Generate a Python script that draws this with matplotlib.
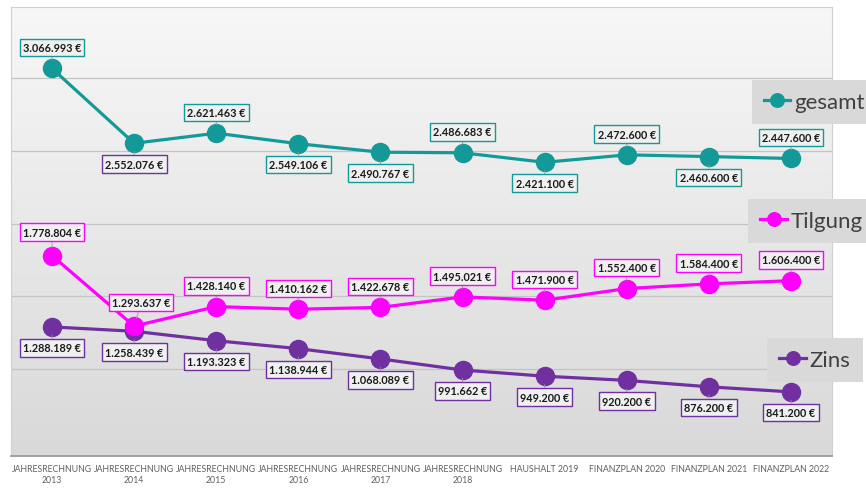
import matplotlib
matplotlib.use("Agg")
import matplotlib.pyplot as plt
import numpy as np

plt.rcParams["font.family"] = ["Lato", "DejaVu Sans"]

categories = ["JAHRESRECHNUNG\n2013", "JAHRESRECHNUNG\n2014", "JAHRESRECHNUNG\n2015",
              "JAHRESRECHNUNG\n2016", "JAHRESRECHNUNG\n2017", "JAHRESRECHNUNG\n2018",
              "HAUSHALT 2019", "FINANZPLAN 2020", "FINANZPLAN 2021", "FINANZPLAN 2022"]
gesamt = [3066993, 2552076, 2621463, 2549106, 2490767, 2486683, 2421100, 2472600, 2460600, 2447600]
tilgung = [1778804, 1293637, 1428140, 1410162, 1422678, 1495021, 1471900, 1552400, 1584400, 1606400]
zins = [1288189, 1258439, 1193323, 1138944, 1068089, 991662, 949200, 920200, 876200, 841200]

TEAL = "#139a98"
MAGENTA = "#ff00ff"
PURPLE = "#7030a0"

# label placement per point: +1 above, -1 below
gesamt_side = [1, -1, 1, -1, -1, 1, -1, 1, -1, 1]
tilgung_side = [1] * 10
zins_side = [-1] * 10


def euro(v):
    return f"{v:,.0f} €".replace(",", ".")


fig = plt.figure(figsize=(8.66, 4.89), dpi=100)
fig.patch.set_facecolor("white")
ax = fig.add_axes([11 / 866, 32 / 489, 821 / 866, 449 / 489])

# gradient background
grad = np.linspace(0, 1, 256).reshape(-1, 1)
cmap = matplotlib.colors.LinearSegmentedColormap.from_list("bg", ["#d9d9d9", "#f7f7f7"])
ax.imshow(grad, extent=[0, 1, 0, 1], transform=ax.transAxes, aspect="auto",
          cmap=cmap, origin="lower", zorder=0)

x = np.arange(len(categories))
ax.set_xlim(-0.5, len(categories) - 0.5)
ax.set_ylim(400000, 3490000)

for gy in [1000000, 1500000, 2000000, 2500000, 3000000]:
    ax.axhline(gy, color="#c4c4c4", lw=0.9, zorder=1)

series = [
    (zins, PURPLE, "Zins", zins_side),
    (tilgung, MAGENTA, "Tilgung", tilgung_side),
    (gesamt, TEAL, "gesamt", gesamt_side),
]
lines = {}
for vals, col, name, sides in series:
    ln, = ax.plot(x, vals, color=col, lw=2.3, marker="o", ms=13, zorder=3, label=name)
    lines[name] = ln

for vals, col, name, sides in series:
    for i, v in enumerate(vals):
        edge = col
        if name == "gesamt" and i == 1:
            edge = PURPLE
        dy = 15 if sides[i] > 0 else -15
        dx = 0
        if name == "Tilgung" and i in (0, 1):
            dy = 17
        if name == "Tilgung" and i == 1:
            dx = 5
        ax.annotate(euro(v), (x[i], v), xytext=(dx, dy), textcoords="offset points",
                    ha="center", va="center", fontsize=7.8, fontweight="bold",
                    color="#1a1a1a", zorder=5,
                    bbox=dict(boxstyle="square,pad=0.3", fc="#f0f0f0", ec=edge, lw=1),
                    arrowprops=dict(arrowstyle="-", color="#9a9a9a", lw=0.6,
                                    shrinkA=0, shrinkB=6))

ax.set_xticks(x)
ax.set_xticklabels(categories, fontsize=6.3, color="#606060", linespacing=1.25)
ax.tick_params(axis="x", length=0, pad=6)
ax.set_yticks([])
for s in ["top", "right", "left"]:
    ax.spines[s].set_color("#d0d0d0")
ax.spines["bottom"].set_color("#9a9a9a")
ax.spines["bottom"].set_linewidth(1.3)

legend_pos = {"gesamt": (0.94, 0.789), "Tilgung": (0.937, 0.546), "Zins": (0.941, 0.262)}
for name in ["gesamt", "Tilgung", "Zins"]:
    leg = fig.legend(handles=[lines[name]], loc="center",
                     bbox_to_anchor=legend_pos[name], bbox_transform=fig.transFigure,
                     fontsize=16, frameon=True, fancybox=False, facecolor="#d9d9d9",
                     edgecolor="none", framealpha=1, handlelength=1.2,
                     handletextpad=0.15, borderpad=0.55, markerscale=0.75)
    for t in leg.get_texts():
        t.set_color("#404040")

fig.savefig("out.png", dpi=100)
